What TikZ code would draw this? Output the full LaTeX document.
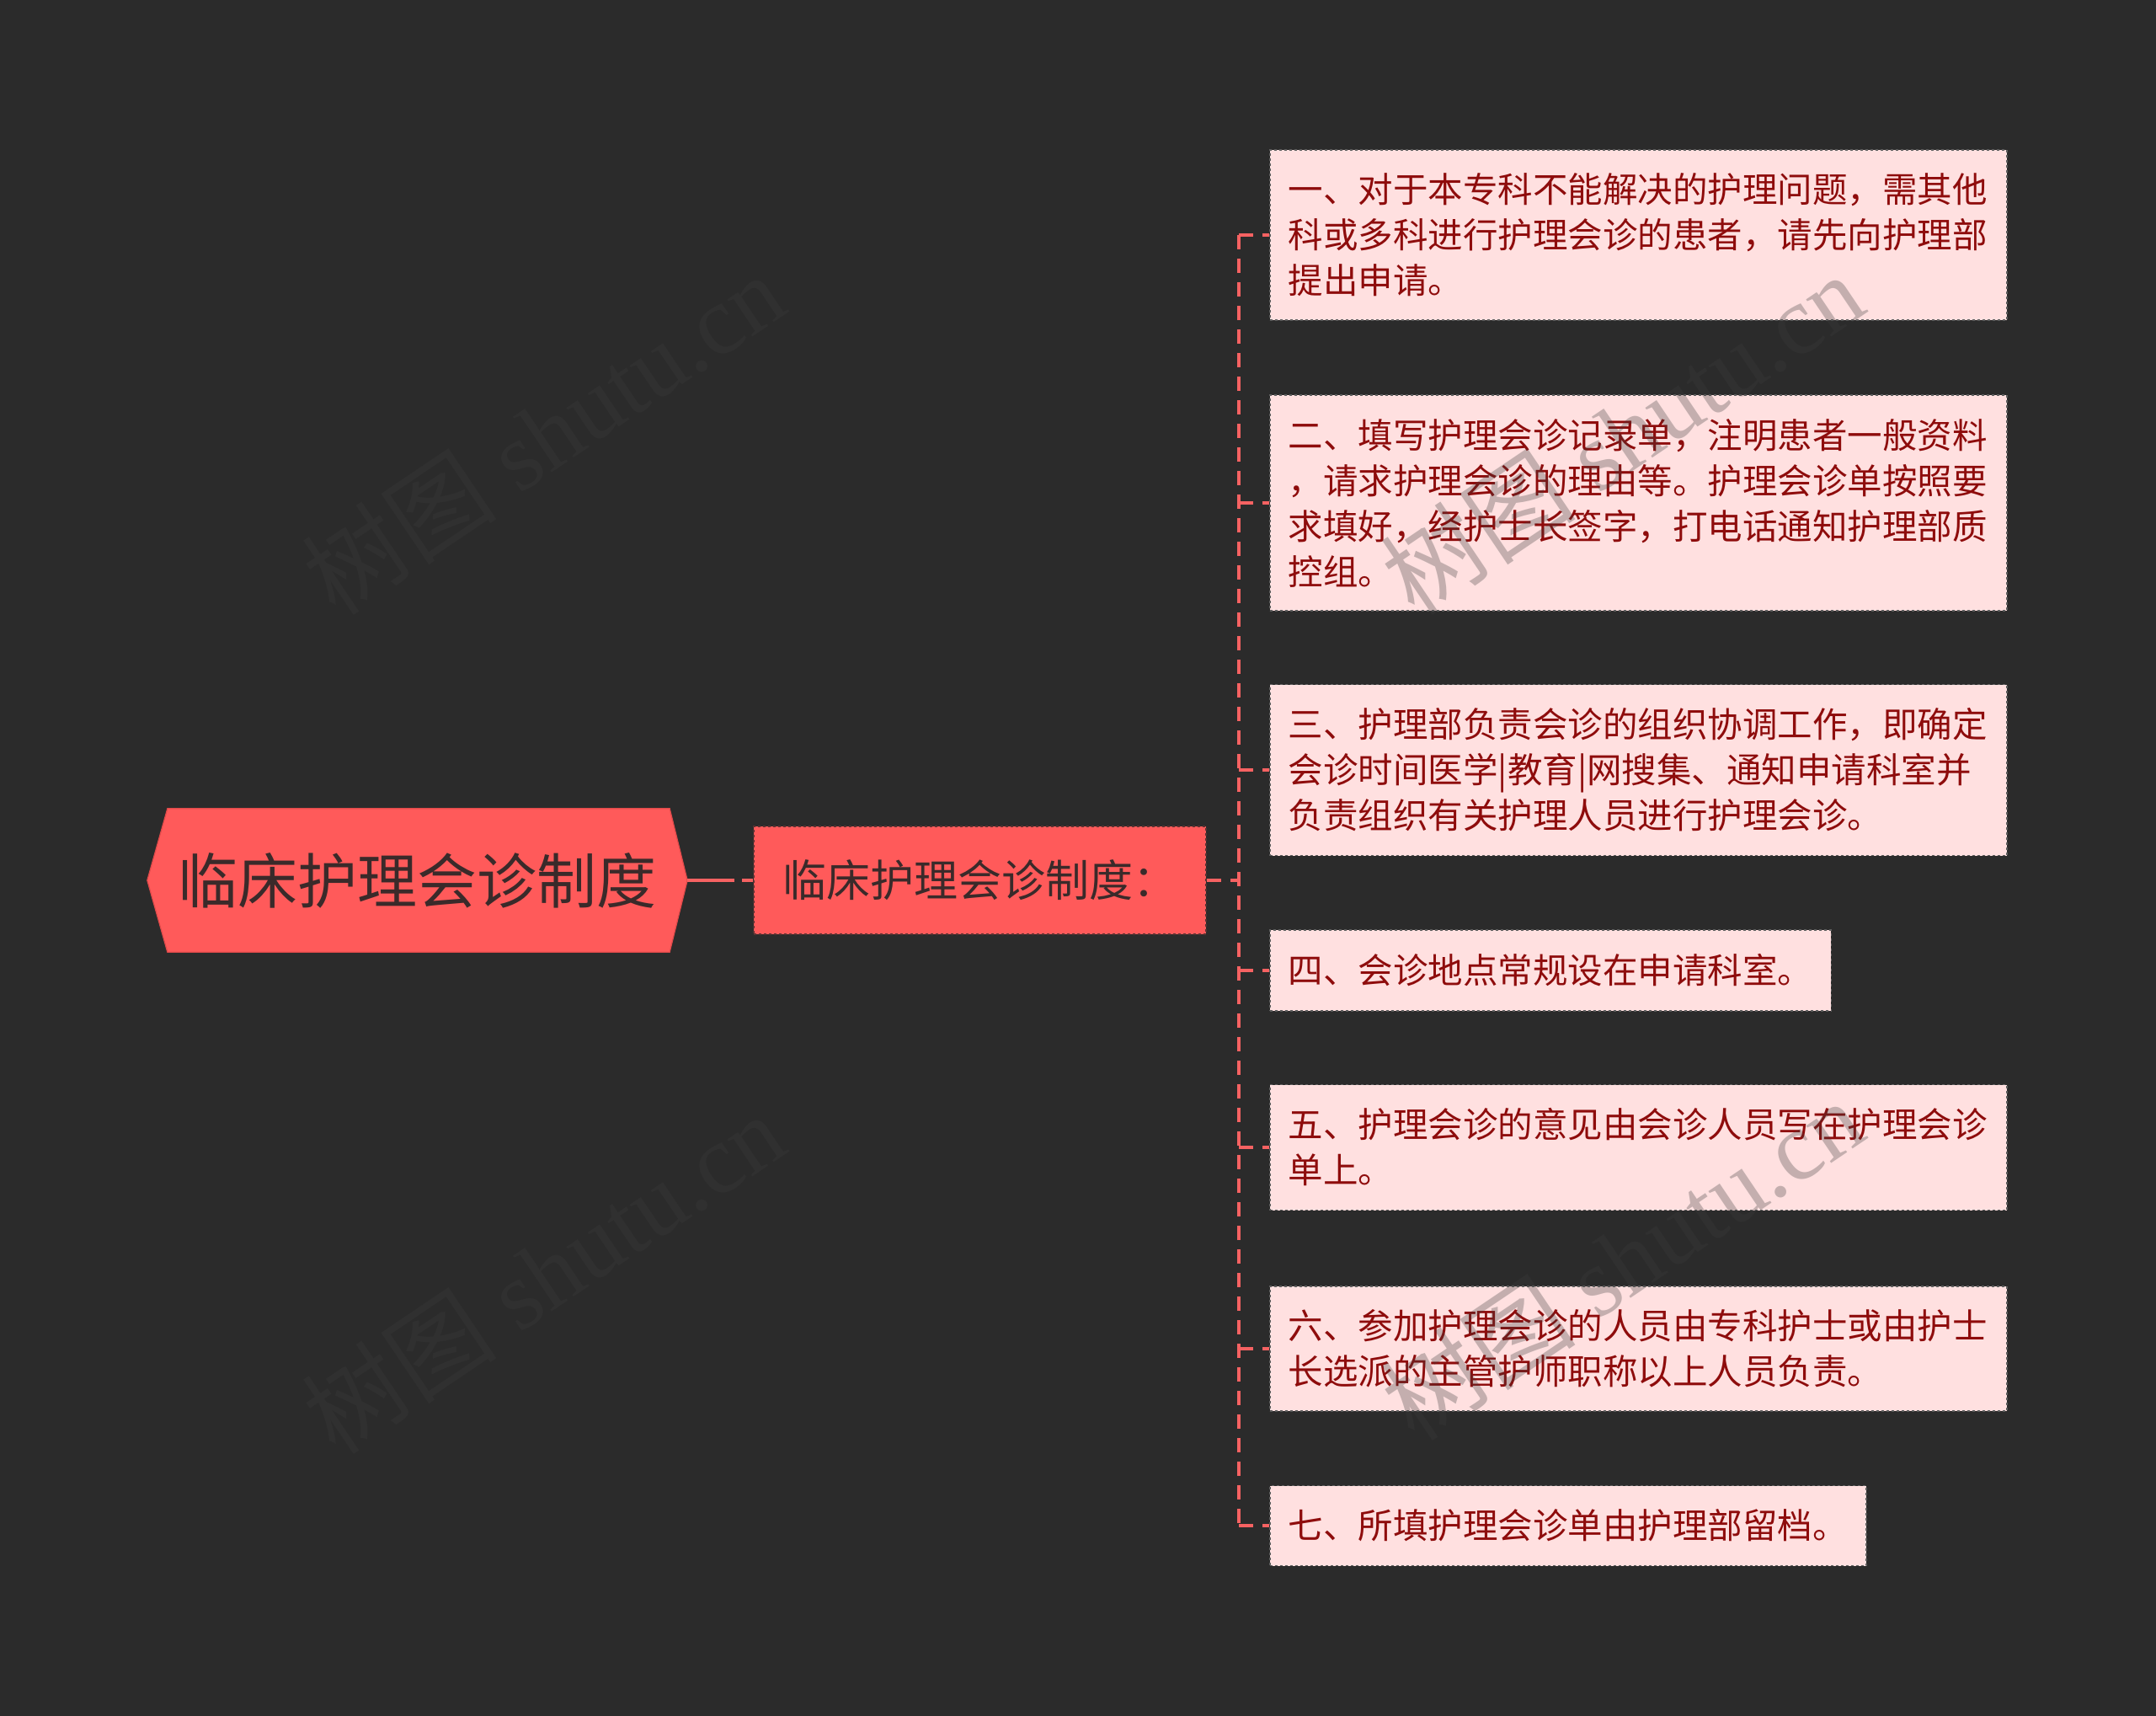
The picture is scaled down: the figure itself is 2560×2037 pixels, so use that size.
\documentclass[tikz,border=0pt]{standalone}
\usepackage{fontspec}
\setmainfont{Noto Sans CJK SC}
\newfontfamily\wmfont{Liberation Serif}
\newfontfamily\wmcjk{Noto Sans CJK SC}
\usetikzlibrary{backgrounds}
\definecolor{bgc}{HTML}{2B2B2B}
\definecolor{rootfill}{HTML}{FF5A5A}
\definecolor{rootline}{HTML}{E04A4A}
\definecolor{darktext}{HTML}{3A2A2A}
\definecolor{midline}{HTML}{5A3232}
\definecolor{leaffill}{HTML}{FFE0E0}
\definecolor{leaftext}{HTML}{8E0C0C}
\definecolor{leafline}{HTML}{5E5E5E}
\definecolor{connc}{HTML}{F66262}
\definecolor{wmc}{HTML}{3C3C3C}
\begin{document}
\begin{tikzpicture}[x=1pt,y=-1pt,
  rootnode/.style={minimum width=641pt,minimum height=170pt,inner sep=0pt,
    text=darktext,font=\fontsize{71}{80}\selectfont},
  midnode/.style={minimum width=537pt,minimum height=128pt,inner sep=0pt,
    fill=rootfill,draw=midline,dashed,line width=1.8pt,
    text=darktext,font=\fontsize{52}{60}\selectfont},
  leaf/.style={anchor=west,fill=leaffill,draw=leafline,dashed,line width=1.8pt,
    text=leaftext,font=\fontsize{41.5}{54}\selectfont,align=left,
    inner xsep=22pt,inner ysep=0pt},
  wide/.style={text width=831pt},
  conn/.style={draw=connc,line width=3.2pt,dash pattern=on 17pt off 11pt},
  wm/.style={text=wmc,opacity=0.3,inner sep=0pt}
]
\useasboundingbox (0,0) rectangle (2560,2037);
\node[rootnode] (root) at (495.5,1045) {临床护理会诊制度};
\begin{scope}[on background layer]
  \fill[bgc] (0,0) rectangle (2560,2037);
  \filldraw[fill=rootfill,draw=rootline,line width=1.2pt]
    (root.west) -- ([xshift=24pt]root.north west) -- ([xshift=-21pt]root.north east)
    -- (root.east) -- ([xshift=-21pt]root.south east) -- ([xshift=24pt]root.south west) -- cycle;
\end{scope}
\node[midnode] (mid) at (1163.5,1045) {临床护理会诊制度：};

\node[leaf,wide,minimum height=202pt] (l1) at (1507,279)
  {一、对于本专科不能解决的护理问题，需其他\\科或多科进行护理会诊的患者，请先向护理部\\提出申请。};
\node[leaf,wide,minimum height=256pt] (l2) at (1507,597)
  {二、填写护理会诊记录单，注明患者一般资料\\，请求护理会诊的理由等。护理会诊单按照要\\求填好，经护士长签字，打电话通知护理部质\\控组。};
\node[leaf,wide,minimum height=203pt] (l3) at (1507,914)
  {三、护理部负责会诊的组织协调工作，即确定\\会诊时间医学|教育|网搜集、通知申请科室并\\负责组织有关护理人员进行护理会诊。};
\node[leaf,minimum height=96pt] (l4) at (1507,1152)
  {四、会诊地点常规设在申请科室。};
\node[leaf,wide,minimum height=149pt] (l5) at (1507,1362)
  {五、护理会诊的意见由会诊人员写在护理会诊\\单上。};
\node[leaf,wide,minimum height=148pt] (l6) at (1507,1601)
  {六、参加护理会诊的人员由专科护士或由护士\\长选派的主管护师职称以上人员负责。};
\node[leaf,minimum height=95pt] (l7) at (1507,1811)
  {七、所填护理会诊单由护理部留档。};

\coordinate (sp) at (1471,1045);
\draw[draw=connc,line width=3.2pt,dash pattern=on 56pt off 9pt on 20pt off 0pt] (root.east) -- (mid.west);
\draw[conn] (mid.east) -- (sp);
\draw[conn] (l1.west -| sp) -- (l7.west -| sp);
\foreach \n in {l1,l2,l3,l4,l5,l6,l7}{
  \draw[conn] (\n.west -| sp) -- (\n.west);
}

\foreach \p/\q in {645/515, 645/1511, 1926/515, 1926/1495}{
  \node[wm,rotate=34] at (\p,\q) {\fontsize{116}{124}\selectfont\wmcjk 树图\wmfont\ shutu.cn};
}
\end{tikzpicture}
\end{document}
